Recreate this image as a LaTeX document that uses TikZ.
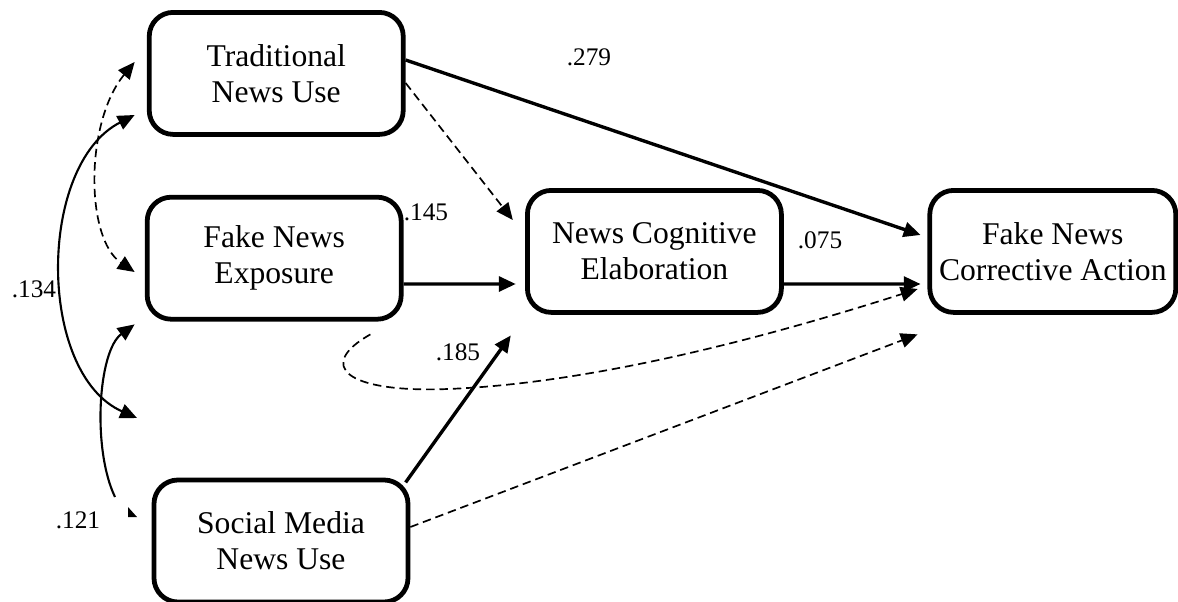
\documentclass[tikz,border=0pt]{standalone}
\usepackage{fontspec}
\setmainfont{Liberation Serif}
\usetikzlibrary{arrows.meta}

\tikzset{
  var/.style={draw, line width=3.4pt, rounded corners=17pt, minimum width=6.35cm,
    minimum height=3.05cm, align=center, inner sep=2pt,
    font=\fontsize{22.5}{25.6}\selectfont},
  coef/.style={inner sep=0pt, font=\fontsize{18}{21}\selectfont},
  direct/.style={line width=2.4pt},
  weak/.style={line width=1.2pt, dash pattern=on 6pt off 3.5pt},
  cov/.style={line width=1.5pt}
}

\begin{document}
\begin{tikzpicture}[>={Triangle[length=12pt,width=10.5pt]}]
\useasboundingbox (0,0) rectangle (29.45,15.025);
\node[var] (tnu) at (6.906,13.19){Traditional\\News Use};
\node[var] (fne) at (6.855,8.57){Fake News\\Exposure};
\node[var] (nce) at (16.36,8.74){News Cognitive\\Elaboration};
\node[var, minimum width=6.15cm] (fnca) at (26.32,8.74){Fake News\\Corrective Action};
\node[var] (smnu) at (7.025,1.5){Social Media\\News Use};
%
\node[coef] (c279) at (14.725,13.6){.279};
\node[coef] (c145) at (10.65,9.725){.145};
\node[coef] (c075) at (20.5,9.025){.075};
\node[coef] (c185) at (11.45,6.225){.185};
\node[coef] (c134) at (0.85,7.8){.134};
\node[coef] (c121) at (1.95,2.025){.121};
%
\draw[->,direct]([yshift=0.335cm]tnu.east) -- ([shift={(-0.17,0.41)}]fnca.west);
\draw[->,weak]([yshift=-0.24cm]tnu.east) -- ([shift={(-0.305,0.785)}]nce.west);
\draw[->,direct]([yshift=-0.645cm]fne.east) -- ([shift={(-0.23,-0.815)}]nce.west);
\draw[->,direct]([yshift=-0.815cm]nce.east) -- ([shift={(-0.17,-0.815)}]fnca.west);
\draw[->,weak]([shift={(-0.83,-0.32)}]fne.south east) .. controls (7.9,5.9) and (8.6,5.2) .. (11.2,5.3)
  .. controls (15,5.45) and (19.5,6.7) .. ([shift={(-0.245,-0.94)}]fnca.west);
\draw[->,direct]([shift={(-0.12,-0.12)}]smnu.north east) -- ([shift={(-0.355,-0.515)}]nce.south west);
\draw[->,weak]([yshift=0.35cm]smnu.east) -- ([shift={(-0.245,-0.49)}]fnca.south west);
%
\draw[<->,weak]([shift={(-0.305,0.285)}]tnu.west) .. controls (2.125,11.975) and (2.125,9.065) .. ([shift={(-0.255,-0.345)}]fne.west);
\coordinate (free134) at (3.425,4.575);
\draw[<->,cov]([shift={(-0.305,-1.04)}]tnu.west) .. controls (0.925,10.9) and (0.925,5.685) .. (free134);
\coordinate (end121) at (2.875,2.6);
\coordinate (tip121) at (3.425,2.1);
\draw[<-,cov]([shift={(-0.255,-0.07)}]fne.south west) .. controls (2.45,6.25) and (2.3,3.8) .. (end121);
\fill (tip121) -- ++(-0.225,0) -- ++(0,0.25) -- cycle;

\end{tikzpicture}
\end{document}
